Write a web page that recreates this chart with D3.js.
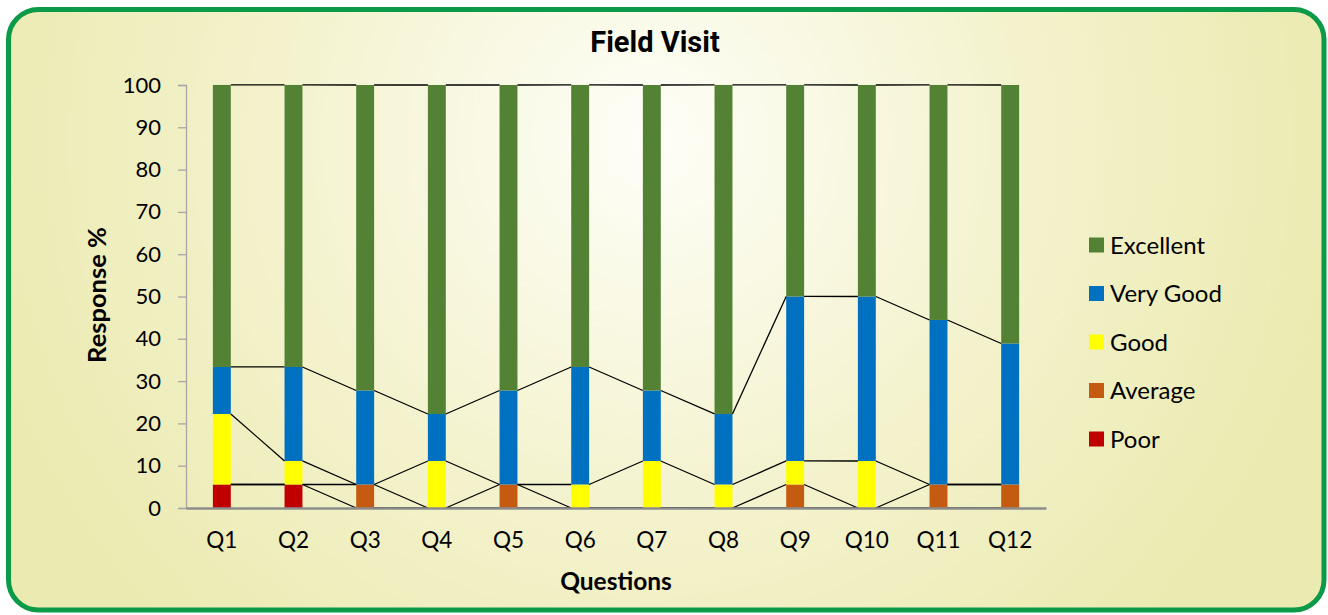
<!DOCTYPE html>
<html>
<head>
<meta charset="utf-8">
<script src="https://cdn.jsdelivr.net/npm/d3@7"></script>
<style>
  html, body { margin: 0; padding: 0; background: #fff; }
  svg { display: block; }
  text { font-family: Lato, "Open Sans", sans-serif; fill: #000; }
</style>
</head>
<body>
<svg id="chart" width="1328" height="615"></svg>
<script>
// data: response % per question (18 respondents)
const questions = ["Q1","Q2","Q3","Q4","Q5","Q6","Q7","Q8","Q9","Q10","Q11","Q12"];
const poor      = [5.56, 5.56, 0, 0, 0, 0, 0, 0, 0, 0, 0, 0];
const average   = [0, 0, 5.56, 0, 5.56, 0, 0, 0, 5.56, 0, 5.56, 5.56];
const good      = [16.67, 5.56, 0, 11.11, 0, 5.56, 11.11, 5.56, 5.56, 11.11, 0, 0];
const veryGood  = [11.11, 22.22, 22.22, 11.11, 22.22, 27.78, 16.67, 16.67, 38.89, 38.89, 38.89, 33.33];
const excellent = [66.67, 66.67, 72.22, 77.78, 72.22, 66.67, 72.22, 77.78, 50, 50, 55.56, 61.11];
const yTicks = [0, 10, 20, 30, 40, 50, 60, 70, 80, 90, 100];

const seriesNames = ["Poor", "Average", "Good", "Very Good", "Excellent"];
const seriesValues = [poor, average, good, veryGood, excellent];
const colors = ["#c00000", "#c55a11", "#ffff00", "#0070c0", "#548235"];

const svg = d3.select("#chart");

// background panel
const defs = svg.append("defs");
const grad = defs.append("radialGradient")
    .attr("id", "bg")
    .attr("gradientUnits", "userSpaceOnUse")
    .attr("cx", 650).attr("cy", 140).attr("r", 700);
grad.append("stop").attr("offset", "0%").attr("stop-color", "#fefef8");
grad.append("stop").attr("offset", "55%").attr("stop-color", "#f3f2cc");
grad.append("stop").attr("offset", "100%").attr("stop-color", "#ebeab0");

svg.append("rect")
    .attr("x", 8.5).attr("y", 9.5)
    .attr("width", 1315.5).attr("height", 600.5)
    .attr("rx", 30).attr("ry", 30)
    .style("fill", "url(#bg)")
    .style("stroke", "#0a9a48")
    .style("stroke-width", 5);

const rows = questions.map((q, i) => {
    const r = { q: q };
    seriesNames.forEach((s, j) => r[s] = seriesValues[j][i]);
    return r;
});
const stacked = d3.stack().keys(seriesNames)(rows);

const x = d3.scaleBand().domain(questions).range([186, 1046]).paddingInner(0.75).paddingOuter(0.375);
const y = d3.scaleLinear().domain([0, 100]).range([508, 85]);

// y axis
const yAxis = svg.append("g")
    .attr("transform", "translate(186,0)")
    .call(d3.axisLeft(y).tickValues(yTicks).tickSize(8).tickPadding(17));
yAxis.select(".domain").attr("stroke", "#a6a6a6").attr("stroke-width", 1.3);
yAxis.selectAll(".tick line").attr("stroke", "#a6a6a6").attr("stroke-width", 1.3);
yAxis.selectAll("text").style("font-size", "22px").style("font-family", "Lato, sans-serif").attr("fill", "#000");

// bars
const layer = svg.append("g").selectAll("g")
    .data(stacked)
    .enter().append("g")
    .style("fill", (d, i) => colors[i]);
layer.selectAll("rect")
    .data(d => d)
    .enter().append("rect")
    .attr("x", d => x(d.data.q))
    .attr("y", d => y(d[1]))
    .attr("width", x.bandwidth())
    .attr("height", d => y(d[0]) - y(d[1]));

// series lines between the tops of each series
const lineGroup = svg.append("g")
    .style("stroke", "#000")
    .style("stroke-width", 1.3)
    .style("fill", "none");
stacked.forEach(s => {
    for (let i = 0; i < s.length - 1; i++) {
        lineGroup.append("line")
            .attr("x1", x(questions[i]) + x.bandwidth())
            .attr("y1", y(s[i][1]))
            .attr("x2", x(questions[i + 1]))
            .attr("y2", y(s[i + 1][1]));
    }
});

// x axis
const xAxis = svg.append("g")
    .attr("transform", "translate(0,508)")
    .call(d3.axisBottom(x).tickSize(0).tickPadding(24));
xAxis.select(".domain").attr("stroke", "#8c8c8c").attr("stroke-width", 2.5);
xAxis.selectAll("text").style("font-size", "22.5px").style("font-family", "Lato, sans-serif").attr("fill", "#000");

// titles
svg.append("text")
    .attr("x", 655).attr("y", 52)
    .attr("text-anchor", "middle")
    .style("font-family", "Roboto, sans-serif")
    .style("font-weight", "bold")
    .style("font-size", "29px")
    .text("Field Visit");

svg.append("text")
    .attr("x", 616).attr("y", 590)
    .attr("text-anchor", "middle")
    .style("font-weight", "bold")
    .style("font-size", "24.5px")
    .text("Questions");

svg.append("text")
    .attr("transform", "translate(106,295) rotate(-90)")
    .attr("text-anchor", "middle")
    .style("font-weight", "bold")
    .style("font-size", "25.5px")
    .text("Response %");

// legend (reverse order, like the stack)
const legendNames = seriesNames.slice().reverse();
const legendColors = colors.slice().reverse();
const legend = svg.append("g");
legendNames.forEach((n, i) => {
    const gy = 245 + i * 48.5;
    legend.append("rect")
        .attr("x", 1089).attr("y", gy - 7.5)
        .attr("width", 15).attr("height", 15)
        .style("fill", legendColors[i]);
    legend.append("text")
        .attr("x", 1110).attr("y", gy + 8.5)
        .style("font-size", "24px")
        .text(n);
});
</script>
</body>
</html>
